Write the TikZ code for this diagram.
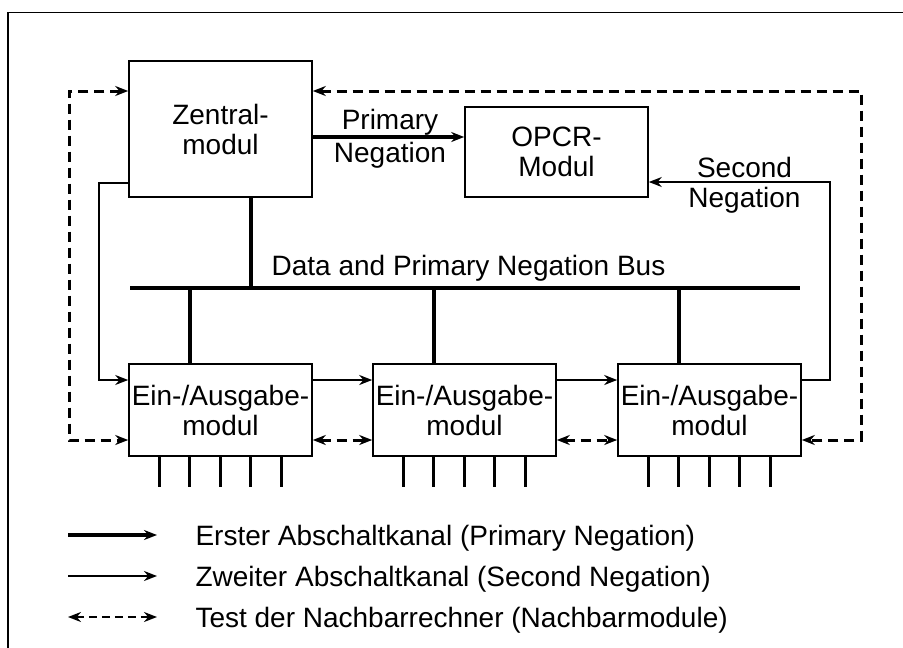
\documentclass[tikz,border=0pt]{standalone}
\usepackage{fontspec}
\setmainfont{Liberation Sans}
\usetikzlibrary{arrows.meta,calc}
\begin{document}
\begin{tikzpicture}[x=1pt,y=-1pt,
  >={Stealth[length=13pt,width=10pt]},
  txt/.style={font=\fontsize{28}{30}\selectfont},
  modbox/.style={draw, line width=1.6pt, inner sep=0pt, minimum width=183pt,
    align=center, txt},
  thickln/.style={line width=3.4pt},
  pinln/.style={line width=3pt},
  midln/.style={line width=2.4pt},
  thinln/.style={line width=1.5pt},
  dashln/.style={line width=3pt, dash pattern=on 10pt off 6pt},
  legdash/.style={line width=2.4pt, dash pattern=on 8pt off 5pt},
  frameln/.style={line width=1.6pt}]
\useasboundingbox (0,0) rectangle (903,648);

% outer frame (top and left edges)
\coordinate (fTL) at (8,12.5);
\draw[frameln] (906,12.5) -- (fTL) -- (8,652);

% modules
\node[modbox, minimum height=136pt] (zm) at (220.5,129) {Zentral-\\modul};
\node[modbox, minimum height=90pt] (opcr) at (556.5,152) {OPCR-\\Modul};
\node[modbox, minimum height=92pt] (io1) at (220.5,410) {Ein-/Ausgabe-\\modul};
\node[modbox, minimum height=92pt] (io2) at (464.5,410) {Ein-/Ausgabe-\\modul};
\node[modbox, minimum height=92pt] (io3) at (709.5,410) {Ein-/Ausgabe-\\modul};

% helper rows and corners
\coordinate (pa) at (0,137);
\coordinate (rowS) at (0,380);
\coordinate (rowD) at (0,440);
\coordinate (dl) at (69,91);
\coordinate (dr) at (861,91);
\coordinate (zl) at (99,183);
\coordinate (sn) at (830,182);

% primary negation
\draw[thickln,->] (zm.east |- pa) -- (opcr.west |- pa);
\node[txt, anchor=base] (pl1) at (390,129) {Primary};
\node[txt, anchor=base] (pl2) at (390,162) {Negation};

% bus
\coordinate (busL) at (130,288);
\coordinate (busR) at (800,288);
\draw[thickln] (busL) -- (busR);
\node[txt, anchor=base] (busl) at (468.5,275) {Data and Primary Negation Bus};
\coordinate (s0) at (251,288);
\coordinate (s1) at (190,288);
\coordinate (s2) at (434,288);
\coordinate (s3) at (679,288);
\draw[thickln] (s0 |- zm.south) -- (s0);
\draw[thickln] (s1) -- (s1 |- io1.north);
\draw[thickln] (s2) -- (s2 |- io2.north);
\draw[thickln] (s3) -- (s3 |- io3.north);

% second negation chain
\draw[thinln,->] (zl -| zm.west) -- (zl) |- (io1.west |- rowS);
\draw[midln,->] (io1.east |- rowS) -- (io2.west |- rowS);
\draw[midln,->] (io2.east |- rowS) -- (io3.west |- rowS);
\draw[thinln,->] (io3.east |- rowS) -| (sn) -- (opcr.east |- sn);
\node[txt, anchor=base] (sl1) at (744.5,177) {Second};
\node[txt, anchor=base] (sl2) at (744.5,207) {Negation};

% neighbour tests
\draw[dashln,<->] (zm.west |- dl) -- (dl) |- (io1.west |- rowD);
\draw[dashln,<->] (zm.east |- dr) -- (dr) |- (io3.east |- rowD);
\draw[dashln,<->] (io1.east |- rowD) -- (io2.west |- rowD);
\draw[dashln,<->] (io2.east |- rowD) -- (io3.west |- rowD);

% I/O pins
\foreach \b in {io1,io2,io3}
  \foreach \k in {0,...,4} {
    \path (\b.south west) ++(31+30.5*\k,0) coordinate (pin);
    \draw[pinln] (pin) -- ++(0,30);
  }

% legend
\coordinate (l1a) at (68,535);  \coordinate (l1b) at (157,535);
\coordinate (l2a) at (68,576);  \coordinate (l2b) at (157,576);
\coordinate (l3a) at (68,617);  \coordinate (l3b) at (157,617);
\draw[thickln,->] (l1a) -- (l1b);
\draw[midln,->] (l2a) -- (l2b);
\draw[legdash,<->] (l3a) -- (l3b);
\node[txt, anchor=base west] (t1) at (192,545) {Erster Abschaltkanal (Primary Negation)};
\node[txt, anchor=base west] (t2) at (192,586) {Zweiter Abschaltkanal (Second Negation)};
\node[txt, anchor=base west] (t3) at (192,627) {Test der Nachbarrechner (Nachbarmodule)};
\end{tikzpicture}
\end{document}
